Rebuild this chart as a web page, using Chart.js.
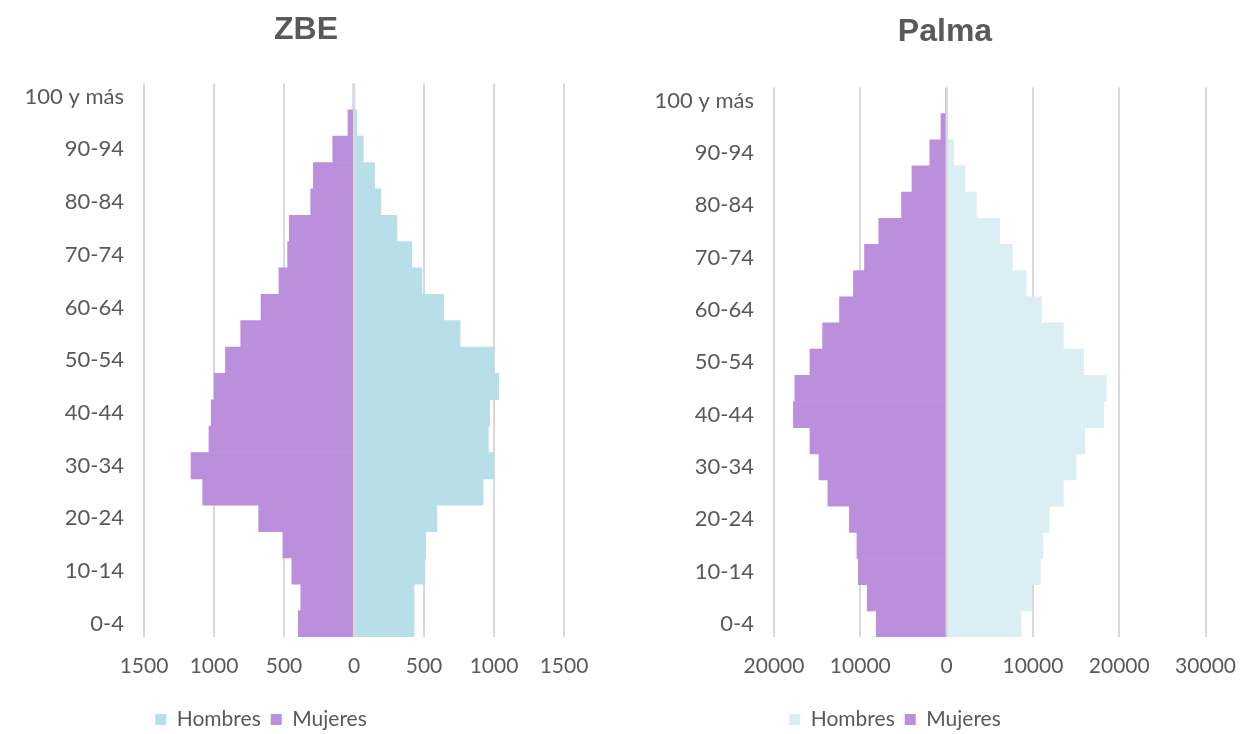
<!DOCTYPE html>
<html>
<head>
<meta charset="utf-8">
<script src="https://cdn.jsdelivr.net/npm/chart.js@4"></script>
<style>
  body { margin: 0; background: #fff; }
  .box { position: absolute; top: 0; height: 734px; }
</style>
</head>
<body>
<div class="box" style="left:0;width:612px"><canvas id="zbeChart"></canvas></div>
<div class="box" style="left:637px;width:616px"><canvas id="palmaChart"></canvas></div>
<script>
// age groups, bottom to top
const ageGroups = ['0-4','5-9','10-14','15-19','20-24','25-29','30-34','35-39','40-44','45-49','50-54','55-59','60-64','65-69','70-74','75-79','80-84','85-89','90-94','95-99','100 y más'];

const zbeHombres = [429, 429, 507, 512, 592, 922, 998, 960, 969, 1033, 1000, 758, 640, 486, 412, 306, 192, 147, 66, 20, 2];
const zbeMujeres = [398, 380, 444, 508, 681, 1081, 1164, 1036, 1020, 999, 918, 809, 664, 536, 474, 462, 309, 290, 152, 43, 2];

const palmaHombres = [8620, 9840, 10870, 11150, 11870, 13520, 14980, 16010, 18200, 18500, 15860, 13520, 10990, 9230, 7620, 6130, 3450, 2140, 800, 150, 20];
const palmaMujeres = [8160, 9200, 10230, 10390, 11260, 13760, 14790, 15830, 17750, 17590, 15830, 14370, 12410, 10800, 9510, 7860, 5220, 4020, 1950, 660, 100];

const zbeTicks = { min: -1500, max: 1500, step: 500 };
const palmaTicks = { min: -20000, max: 30000, step: 10000 };

const textColor = '#595959';
const gridColor = '#d9d9d9';
const fontFamily = 'Lato, "Open Sans", sans-serif';

// grey line at 0 drawn over the bars
const zeroLine = {
    id: 'zeroLine',
    afterDatasetsDraw(chart){
        const x = chart.scales.x.getPixelForValue(0);
        const { top, bottom } = chart.chartArea;
        const ctx = chart.ctx;
        ctx.save();
        ctx.strokeStyle = gridColor; ctx.lineWidth = 2;
        ctx.beginPath(); ctx.moveTo(x, top); ctx.lineTo(x, bottom); ctx.stroke();
        ctx.restore();
    }
};

// nudge title and legend to where the original has them
const nudge = {
    id: 'nudge',
    afterLayout(chart, args, opts){
        chart.titleBlock.right += opts.titleRight || 0;
        const lg = chart.legend;
        lg.right -= opts.legendLeft || 0;
        lg.top += opts.legendDown || 0;
        lg.bottom += opts.legendDown || 0;
    }
};

function makePyramid(id, title, hombres, mujeres, hombresColor, ticks, cfg){
    new Chart(document.getElementById(id), {
        type: 'bar',
        data: {
            labels: ageGroups,
            datasets: [
                { label: 'Hombres', data: hombres, backgroundColor: hombresColor },
                { label: 'Mujeres', data: mujeres.map(v => -v), backgroundColor: '#bb8fdc' }
            ]
        },
        options: {
            indexAxis: 'y',
            responsive: true,
            maintainAspectRatio: false,
            animation: false,
            categoryPercentage: 1,
            barPercentage: 1,
            layout: { padding: { left: 0, right: cfg.padRight, top: 0, bottom: 0 } },
            scales: {
                x: {
                    stacked: true,
                    min: ticks.min, max: ticks.max,
                    ticks: { stepSize: ticks.step, color: textColor, padding: 17, maxRotation: 0,
                             font: { family: fontFamily, size: 21 },
                             callback: v => String(Math.abs(v)) },
                    grid: { color: gridColor, lineWidth: 2, drawTicks: false },
                    border: { display: false },
                    afterFit: s => { s.height = cfg.xHeight; }
                },
                y: {
                    stacked: true,
                    reverse: true,
                    ticks: { color: textColor, padding: 20, autoSkip: false,
                             font: { family: fontFamily, size: 22 },
                             callback: (v, i) => i % 2 === 0 ? ageGroups[i] : '' },
                    grid: { display: false, drawTicks: false },
                    border: { display: false },
                    afterFit: s => { s.width = cfg.yWidth; }
                }
            },
            plugins: {
                title: { display: true, text: title, color: textColor,
                         font: { family: '"Liberation Sans", Arial, sans-serif', size: 32, weight: 'bold' },
                         padding: { top: cfg.titleTop, bottom: cfg.titleBottom } },
                legend: { position: 'bottom',
                          labels: { color: textColor, boxWidth: 11, boxHeight: 11, padding: 10,
                                    font: { family: fontFamily, size: 21 } } },
                nudge: { titleRight: cfg.padRight, legendLeft: cfg.legendLeft, legendDown: 6 },
                tooltip: { enabled: false }
            }
        },
        plugins: [zeroLine, nudge]
    });
}

makePyramid('zbeChart', 'ZBE', zbeHombres, zbeMujeres, '#b8dee8', zbeTicks,
    { padRight: 48, yWidth: 144, xHeight: 56, titleTop: 11, titleBottom: 34, legendLeft: 42 });
makePyramid('palmaChart', 'Palma', palmaHombres, palmaMujeres, '#daeef3', palmaTicks,
    { padRight: 44, yWidth: 137, xHeight: 56, titleTop: 13, titleBottom: 36, legendLeft: 56 });
</script>
</body>
</html>
